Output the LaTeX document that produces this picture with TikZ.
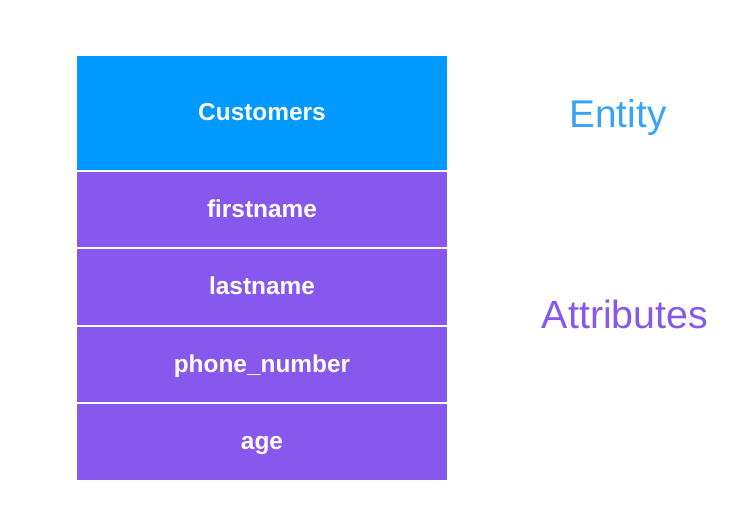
\documentclass[tikz,border=0pt]{standalone}
\usepackage{fontspec}
\setmainfont{Liberation Sans}
\usetikzlibrary{positioning}
\definecolor{entityblue}{HTML}{0099FF}
\definecolor{entitytext}{HTML}{36A3F7}
\definecolor{attrpurple}{HTML}{8757EE}
\tikzset{
  tablebox/.style={minimum width=7.4cm, inner sep=0pt, outer sep=0pt,
                   text=white, font=\fontsize{13.9}{16}\selectfont\bfseries,
                   text height=0.88em, text depth=0pt},
  entitybox/.style={tablebox, fill=entityblue, minimum height=2.28cm},
  attrbox/.style={tablebox, fill=attrpurple, minimum height=1.51cm},
  sidelabel/.style={font=\fontsize{22}{26}\selectfont, anchor=base, inner sep=0pt}
}
\begin{document}
\begin{tikzpicture}[x=0.02cm, y=-0.02cm, node distance=0.04cm]
\useasboundingbox (0,0) rectangle (745,514);

% Table (vertical stack)
\node[entitybox] (customers) at (262,113) {Customers};
\node[attrbox, below=of customers] (firstname) {firstname};
\node[attrbox, below=of firstname] (lastname) {lastname};
\node[attrbox, below=of lastname] (phone) {phone\_number};
\node[attrbox, below=of phone] (age) {age};

% Labels
\node[sidelabel, text=entitytext] (entity) at (618,127) {Entity};
\node[sidelabel, text=attrpurple, font=\fontsize{22.4}{26}\selectfont] (attributes) at (625,328) {Attributes};

\end{tikzpicture}
\end{document}
